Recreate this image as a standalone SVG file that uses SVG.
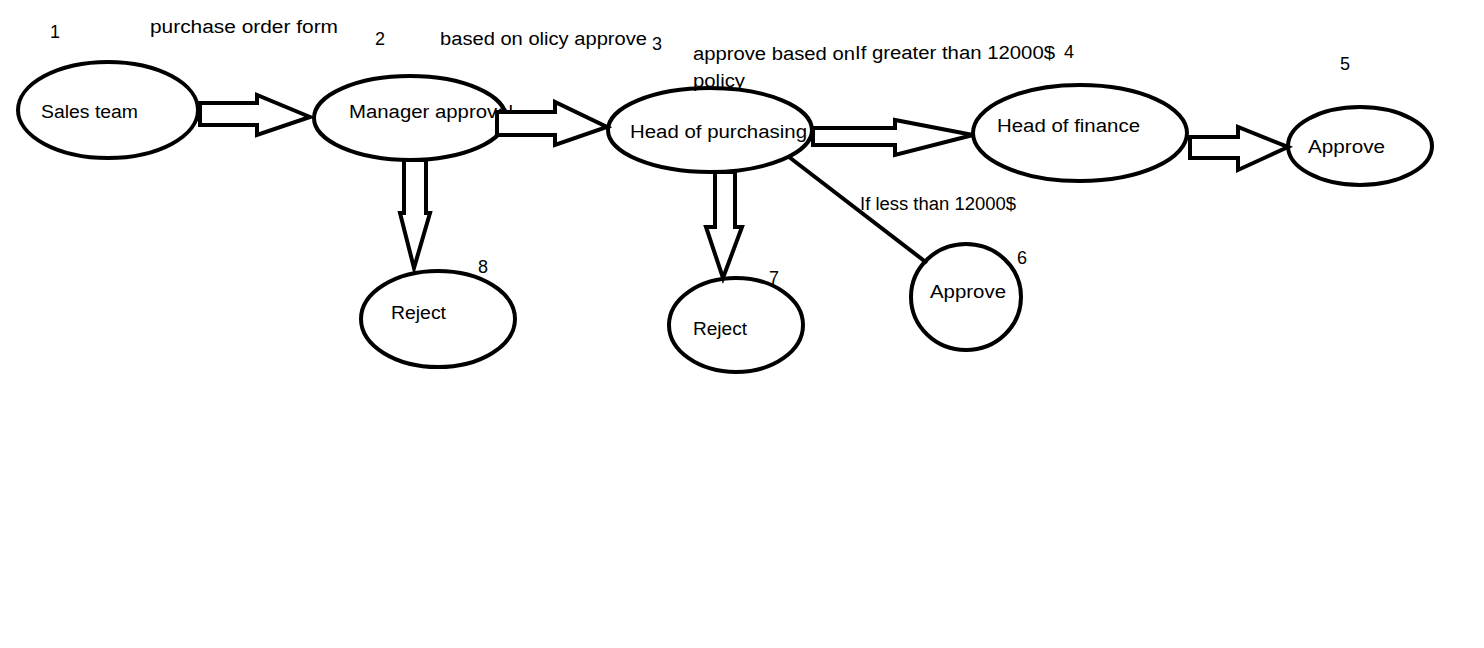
<svg xmlns="http://www.w3.org/2000/svg" width="1484" height="648" viewBox="0 0 1484 648">
<style>
.n{fill:none;stroke:#000;stroke-width:4}
.a{fill:#fff;stroke:#000;stroke-width:4;stroke-linejoin:miter}
.l{fill:none;stroke:#000;stroke-width:4}
text{font-family:"Liberation Sans",Arial,sans-serif;font-size:18px;fill:#000}
</style>
<rect width="1484" height="648" fill="#fff"/>
<g id="labels">
<text x="50" y="38">1</text>
<text x="150" y="33" textLength="188" lengthAdjust="spacingAndGlyphs">purchase order form</text>
<text x="375" y="45">2</text>
<text x="440" y="45" textLength="207" lengthAdjust="spacingAndGlyphs">based on olicy approve</text>
<text x="652" y="50">3</text>
<text x="693" y="60" textLength="162" lengthAdjust="spacingAndGlyphs">approve based on</text>
<text x="693" y="87" textLength="52" lengthAdjust="spacingAndGlyphs">policy</text>
<text x="855" y="59" textLength="200" lengthAdjust="spacingAndGlyphs">If greater than 12000$</text>
<text x="1064" y="58">4</text>
<text x="1340" y="70">5</text>
<text x="860" y="210" textLength="156" lengthAdjust="spacingAndGlyphs">If less than 12000$</text>
<text x="478" y="273">8</text>
<text x="769" y="284">7</text>
<text x="1017" y="264">6</text>
</g>
<g id="n1"><ellipse class="n" cx="108" cy="110" rx="90" ry="48"/><text x="41" y="118" textLength="97" lengthAdjust="spacingAndGlyphs">Sales team</text></g>
<g id="n2"><ellipse class="n" cx="410" cy="118" rx="96" ry="42"/><text x="349" y="118" textLength="164" lengthAdjust="spacingAndGlyphs">Manager approval</text></g>
<g id="n3"><ellipse class="n" cx="710" cy="130" rx="102" ry="42"/><text x="630" y="138" textLength="177" lengthAdjust="spacingAndGlyphs">Head of purchasing</text></g>
<g id="n4"><ellipse class="n" cx="1080" cy="133" rx="107" ry="48"/><text x="997" y="132" textLength="143" lengthAdjust="spacingAndGlyphs">Head of finance</text></g>
<g id="n5"><ellipse class="n" cx="1360" cy="146" rx="72" ry="39"/><text x="1308" y="153" textLength="77" lengthAdjust="spacingAndGlyphs">Approve</text></g>
<g id="n6"><ellipse class="n" cx="966" cy="297" rx="55" ry="53"/><text x="930" y="298" textLength="76" lengthAdjust="spacingAndGlyphs">Approve</text></g>
<g id="n7"><ellipse class="n" cx="736" cy="325" rx="67" ry="47"/><text x="693" y="335" textLength="54" lengthAdjust="spacingAndGlyphs">Reject</text></g>
<g id="n8"><ellipse class="n" cx="438" cy="319" rx="77" ry="48"/><text x="391" y="319" textLength="55" lengthAdjust="spacingAndGlyphs">Reject</text></g>
<g id="connectors">
<polygon class="a" points="200,103 257,103 257,95 310,117 257,135 257,125 200,125"/>
<polygon class="a" points="497,112 555,112 555,102 607,127 555,145 555,135 497,135"/>
<polygon class="a" points="813,128 895,128 895,120 973,135 895,155 895,145 813,145"/>
<polygon class="a" points="1190,137 1238,137 1238,127 1288,147 1238,170 1238,158 1190,158"/>
<polygon class="a" points="404,160 404,213 400,213 414,268 430,213 426,213 426,160"/>
<polygon class="a" points="715,172 715,227 706,227 723,278 742,227 735,227 735,172"/>
<line class="l" x1="789" y1="157" x2="927" y2="263"/>
</g>
</svg>
